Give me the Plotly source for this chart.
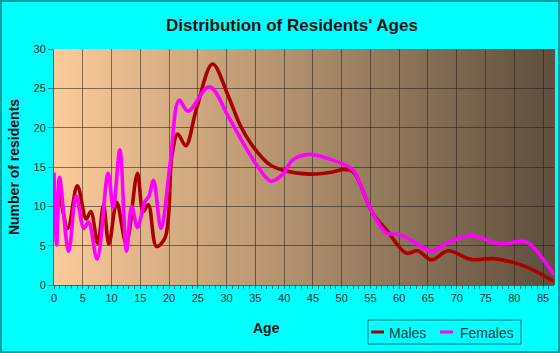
import plotly.graph_objects as go

# ---- data ----
male_age = [0, 0.5, 0.9, 2.4, 4.05, 5.6, 6.4, 7.6, 8.6, 9.55, 10.9, 12.55, 14.5, 15.5, 16.4,
            17.8, 19.3, 20.5, 21.5, 22.9, 24.8, 27.55, 30.3, 32.3, 34.6, 37.5, 39.8, 44.4,
            47.9, 50.5, 52.0, 53.1, 55.4, 57.8, 61.2, 63.2, 65.6, 68.5, 72.5, 76.3, 79.7,
            82.6, 86.9]
males = [12.3, 7.5, 11.5, 7.2, 12.6, 8.4, 9.35, 5.3, 10.1, 5.2, 10.5, 5.3, 14.2, 9.35, 10.2,
         4.9, 6.0, 16.5, 19.2, 17.7, 22.5, 28.1, 24.0, 20.4, 17.6, 15.3, 14.6, 14.1,
         14.3, 14.7, 14.4, 13.0, 9.1, 7.0, 4.05, 4.35, 3.2, 4.35, 3.25, 3.35, 2.9,
         2.15, 0.45]

female_age = [0, 0.46, 0.95, 2.55, 3.85, 5.2, 6.0, 7.5, 9.4, 10.3, 11.45, 12.6, 13.5, 14.5,
              15.8, 16.5, 17.3, 18.6, 20.2, 21.75, 23.3, 27.0, 30.3, 32.9, 35.2, 37.7, 39.8,
              41.5, 44.4, 47.9, 50.5, 52.0, 53.1, 55.4, 57.8, 60.1, 63.0, 65.6, 68.2, 72.4,
              77.4, 81.5, 82.9, 86.9]
females = [14.3, 5.1, 13.7, 4.3, 11.3, 7.2, 8.0, 3.3, 14.2, 9.8, 17.2, 4.3, 10.0, 7.3,
           10.6, 11.3, 13.3, 7.2, 15.5, 23.5, 22.1, 25.2, 21.4, 18.0, 15.3, 13.2, 14.1,
           15.9, 16.6, 16.0, 15.3, 14.6, 13.0, 9.1, 6.6, 6.4, 5.3, 4.3, 5.3, 6.3,
           5.25, 5.55, 5.1, 1.3]

series_names = ["Males", "Females"]
series_colors = ["#AA0000", "#FF00FF"]

x_ticks = list(range(0, 90, 5))
y_ticks = list(range(0, 35, 5))

W, H = 560, 353
ML, MR, MT, MB = 54, 6, 49, 68
PW, PH = W - ML - MR, H - MT - MB


def px_x(px):
    return (px - ML) / PW


def px_y(py):
    return (H - MB - py) / PH


fig = go.Figure()
for ages, vals, name, col in [(male_age, males, series_names[0], series_colors[0]),
                              (female_age, females, series_names[1], series_colors[1])]:
    fig.add_trace(go.Scatter(x=ages, y=vals, name=name, mode="lines", showlegend=False,
                             line=dict(color=col, width=3.6, shape="spline", smoothing=1.0)))

# background gradient (decoration)
c0 = (252, 203, 153)
c1 = (94, 79, 62)
n = 120
shapes = []
for i in range(n):
    t = i / (n - 1)
    col = tuple(int(round(c0[k] + (c1[k] - c0[k]) * t)) for k in range(3))
    shapes.append(dict(type="rect", xref="paper", yref="paper", x0=i / n, x1=(i + 1) / n + 0.002,
                       y0=0, y1=1, fillcolor="rgb(%d,%d,%d)" % col, line=dict(width=0),
                       layer="below"))
# outer border
shapes.append(dict(type="rect", xref="paper", yref="paper",
                   x0=px_x(1), x1=px_x(W - 1), y0=px_y(H - 1), y1=px_y(1),
                   line=dict(color="#00A0A0", width=2), fillcolor="rgba(0,0,0,0)", layer="above"))

# legend (box, swatches, labels)
shapes.append(dict(type="rect", xref="paper", yref="paper",
                   x0=px_x(368), x1=px_x(521), y0=px_y(344), y1=px_y(320),
                   line=dict(color="#007070", width=1), fillcolor="rgba(0,0,0,0)"))
leg_items = [(371, 384, 387), (440, 453, 458)]
annotations = []
for (sx0, sx1, tx), name, col in zip(leg_items, series_names, series_colors):
    shapes.append(dict(type="line", xref="paper", yref="paper",
                       x0=px_x(sx0), x1=px_x(sx1), y0=px_y(332), y1=px_y(332),
                       line=dict(color=col, width=3)))
    annotations.append(dict(text=name, xref="paper", yref="paper", x=px_x(tx), y=px_y(332.5),
                            xanchor="left", yanchor="middle", showarrow=False,
                            font=dict(family="Liberation Sans, Arial", size=14, color="#003838")))

annotations.append(dict(text="<b>Age</b>", xref="paper", yref="paper",
                        x=px_x(266), y=px_y(328), showarrow=False,
                        xanchor="center", yanchor="middle",
                        font=dict(family="Liberation Sans, Arial", size=14, color="#101010")))

fig.update_layout(
    width=W, height=H,
    margin=dict(l=ML, r=MR, t=MT, b=MB),
    paper_bgcolor="#00FFFF",
    plot_bgcolor="#00FFFF",
    shapes=shapes,
    annotations=annotations,
    showlegend=False,
    title=dict(text="<b>Distribution of Residents' Ages</b>", x=px_x(292), xref="paper",
               xanchor="center", y=1 - 25 / H, yanchor="middle",
               font=dict(family="Liberation Sans, Arial", size=17, color="#101010")),
    font=dict(family="Liberation Sans, Arial", size=11, color="#0A2A2A"),
)
fig.update_xaxes(range=[0, 86.9], tickvals=x_ticks, ticks="outside", ticklen=3,
                 tickcolor="#008080", showline=True, linecolor="#008080", linewidth=1,
                 showgrid=True, gridcolor="rgba(40,30,20,0.55)", gridwidth=1, zeroline=False,
                 minor=dict(dtick=1, ticks="outside", ticklen=3, tickcolor="#008080", showgrid=False),
                 tickfont=dict(size=11, color="#0A2A2A"))
fig.update_yaxes(range=[0, 30], tickvals=y_ticks, ticks="outside", ticklen=5,
                 tickcolor="#008080", showline=True, linecolor="#008080", linewidth=1,
                 showgrid=True, gridcolor="rgba(40,30,20,0.55)", gridwidth=1, zeroline=False,
                 tickfont=dict(size=11, color="#0A2A2A"),
                 title=dict(text="<b>Number of residents</b>", standoff=10,
                            font=dict(size=14, color="#101010")))

fig.write_html("out.html")
